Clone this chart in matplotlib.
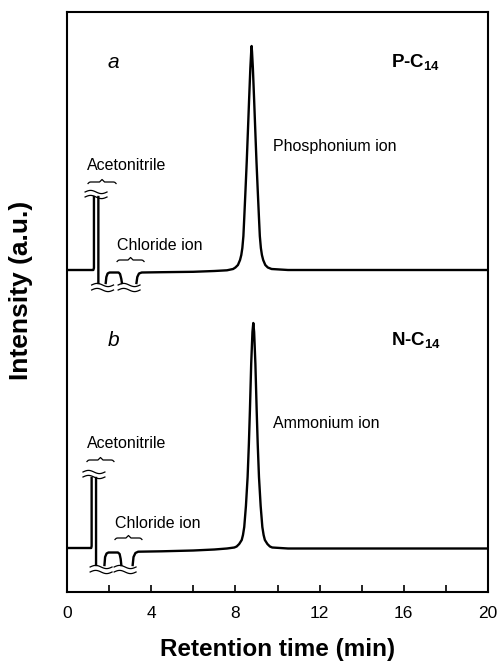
import numpy as np
import matplotlib
matplotlib.use("Agg")
import matplotlib.pyplot as plt

plt.rcParams['font.family'] = ['Liberation Sans', 'DejaVu Sans']
plt.rcParams['mathtext.fontset'] = 'custom'
plt.rcParams['mathtext.rm'] = 'Liberation Sans'
plt.rcParams['mathtext.bf'] = 'Liberation Sans:bold'

nan = np.nan

# chromatogram a (P-C14), intensity relative to its own baseline
time_a = [0, 1.25, 1.28, 1.28, nan,
          1.49, 1.49, nan,
          1.84, 1.87, 1.93, 2.02, 2.45, 2.52, 2.58, 2.61, nan,
          3.30, 3.34, 3.42, 3.55, 4.5, 6.0, 7.0, 7.6, 7.89, 8.0, 8.12, 8.22, 8.28, 8.33,
          8.38, 8.42, 8.48, 8.54, 8.60, 8.65, 8.71, 8.75, 8.77, 8.79, 8.83, 8.89, 8.94,
          9.00, 9.06, 9.12, 9.16, 9.21, 9.26, 9.32, 9.42, 9.54, 9.72, 10.5, 14, 20]
sig_a = [0, 0, 2, 73, nan,
         73, -13, nan,
         -13, -7, -3.5, -2.5, -2.5, -4, -9, -13, nan,
         -13, -7, -3.5, -2.5, -2.2, -1.8, -1, -0.3, 1, 2.5, 5, 10, 15, 22,
         34, 52, 80, 109, 142, 170, 202, 218, 224, 218, 202, 170, 142,
         109, 80, 52, 34, 22, 15, 10, 5, 2.5, 1, 0, 0, 0]

# chromatogram b (N-C14)
time_b = [0, 1.15, 1.17, 1.17, nan,
          1.38, 1.38, nan,
          1.78, 1.81, 1.88, 1.97, 2.42, 2.50, 2.55, 2.58, nan,
          3.12, 3.16, 3.25, 3.38, 4.5, 6.0, 7.0, 7.6, 7.95, 8.06, 8.18, 8.30, 8.36,
          8.42, 8.50, 8.58, 8.64, 8.69, 8.75, 8.81, 8.85, 8.89, 8.95, 9.01, 9.06,
          9.12, 9.20, 9.28, 9.34, 9.40, 9.52, 9.64, 9.75, 10.5, 20]
sig_b = [0, 0, 2, 70, nan,
         70, -17, nan,
         -17, -9, -5.5, -4.5, -4.5, -6, -11, -17, nan,
         -17, -9, -5, -3.7, -3.3, -2.5, -1.5, -0.5, 0.5, 1.5, 4, 8, 13,
         21, 42, 71, 104, 138, 184, 216, 225, 216, 184, 138, 104,
         71, 42, 21, 13, 8, 4, 1.5, 0.5, -0.5, -0.5]

offsets = [322, 44]
letters = ['a', 'b']
compounds = ['P-C$_{\\mathbf{14}}$', 'N-C$_{\\mathbf{14}}$']
ion_labels = ['Phosphonium ion', 'Ammonium ion']
top_breaks = [1.38, 1.28]
bottom_breaks = [[1.69, 2.95], [1.62, 2.76]]
top_break_y = [78, 76]
bottom_break_y = [-15, -19]
acn_brace = [[1.0, 2.33], [0.95, 2.23]]
cl_brace = [[2.38, 3.66], [2.28, 3.56]]


def squiggle(ax, tc, y):
    # pair of "~" break marks
    u = np.linspace(0, 1, 40)
    xs = tc - 0.52 + 1.04 * u
    for dy in (0, -5):
        ax.plot(xs, y + dy + 1.6 * np.sin(2 * np.pi * u), color='black', lw=0.9)


def brace(ax, x0, x1, y):
    xm = (x0 + x1) / 2
    d = 0.12
    xs = [x0, x0 + d * 0.5, x0 + d, xm - d, xm, xm + d, x1 - d, x1 - d * 0.5, x1]
    ys = [y - 1.5, y - 0.3, y, y, y + 2.5, y, y, y - 0.3, y - 1.5]
    ax.plot(xs, ys, color='black', lw=0.9)


fig = plt.figure(figsize=(4.99, 6.62), dpi=100)
ax = fig.add_axes([67 / 499, 70 / 662, 421 / 499, 580 / 662])

traces = [(time_a, sig_a), (time_b, sig_b)]
for i, (t, s) in enumerate(traces):
    off = offsets[i]
    ax.plot(t, np.array(s) + off, color='black', lw=1.7, solid_joinstyle='round')
    squiggle(ax, top_breaks[i], off + top_break_y[i])
    for tb in bottom_breaks[i]:
        squiggle(ax, tb, off + bottom_break_y[i])
    brace(ax, acn_brace[i][0], acn_brace[i][1], off + 88)
    brace(ax, cl_brace[i][0], cl_brace[i][1], off + 10)
    ax.text(0.95, off + 104, 'Acetonitrile', fontsize=11.5, va='center', ha='left')
    ax.text(2.38 - 0.1 * i, off + 24, 'Chloride ion', fontsize=11.5, va='center', ha='left')
    ax.text(9.8, off + 124, ion_labels[i], fontsize=11.5, va='center', ha='left')
    ax.text(2.2, off + 208, letters[i], fontsize=15, style='italic', va='center', ha='center')
    ax.text(15.4, off + 207, compounds[i], fontsize=13.5, fontweight='bold', va='center', ha='left')

ax.set_xlim(0, 20)
ax.set_ylim(0, 580)
ax.set_xticks([0, 4, 8, 12, 16, 20])
ax.set_xticks([2, 6, 10, 14, 18], minor=True)
ax.tick_params(axis='x', which='both', direction='in', length=5, width=1.2, pad=10, labelsize=12.5)
ax.set_yticks([])
for sp in ax.spines.values():
    sp.set_linewidth(1.5)

ax.set_xlabel('Retention time (min)', fontsize=17.5, fontweight='bold', labelpad=12)
ax.set_ylabel('Intensity (a.u.)', fontsize=19, fontweight='bold')
ax.yaxis.set_label_coords(-0.081, 0.52)

fig.savefig('out.png', dpi=100)
